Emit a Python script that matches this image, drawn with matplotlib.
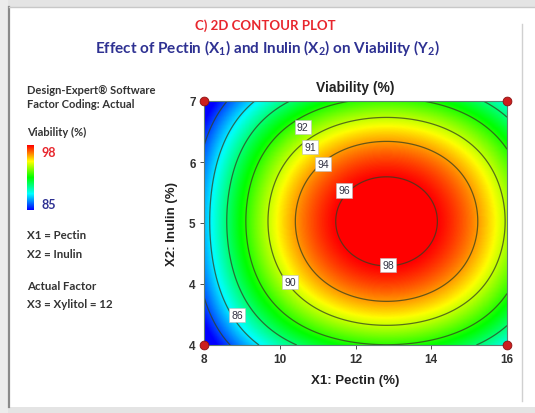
import numpy as np
import matplotlib
matplotlib.use("Agg")
import matplotlib.pyplot as plt
from matplotlib.colors import LinearSegmentedColormap, Normalize
from matplotlib.cm import ScalarMappable
from matplotlib.lines import Line2D
from matplotlib.patches import Rectangle

# ---------------- data ----------------
pectin_range = [8, 16]          # X1 (%)
inulin_range = [4, 7]           # X2 (%)
# response-surface model for Viability (%)
peak_value = 98.9
pectin_opt = 12.82
inulin_opt = 5.52
coef_x2 = 0.50      # curvature along pectin
coef_y2 = 3.0       # curvature along inulin
coef_x2y2 = 0.065   # interaction of squared terms
contour_levels = [86, 88, 90, 92, 94, 96, 98]
label_texts = ["92", "91", "94", "96", "98", "90", "86"]
label_pos = [(10.61, 6.68), (10.80, 6.43), (11.14, 6.23), (11.70, 5.90),
             (12.86, 4.98), (10.27, 4.77), (8.87, 4.37)]
design_x = [8, 8, 16, 16]
design_y = [4, 7, 4, 7]
xticks = [8, 10, 12, 14, 16]
yticks = [4, 4.75, 5.5, 6.25, 7]
ytick_labels = ["4", "4", "5", "6", "7"]
cbar_min, cbar_max = 85, 98

# ---------------- figure ----------------
W, H = 535, 414
fig = plt.figure(figsize=(W / 100, H / 100), dpi=100)
fig.patch.set_facecolor("white")

def fx(px):
    return px / W

def fy(py):
    return 1 - py / H

# slide frame decorations
fig.add_artist(Rectangle((0, fy(8)), 1, 8 / H, transform=fig.transFigure,
                         facecolor="#e4e4e4", edgecolor="none"))
fig.add_artist(Rectangle((0, 0), 1, 6 / H, transform=fig.transFigure,
                         facecolor="#e4e4e4", edgecolor="none"))
fig.add_artist(Rectangle((0, 0), fx(8), 1, transform=fig.transFigure,
                         facecolor="#ececec", edgecolor="none"))
fig.add_artist(Line2D([fx(8.5), fx(8.5)], [fy(8), fy(408)], transform=fig.transFigure,
                      color="#8a8a8a", lw=1.6))
fig.add_artist(Line2D([fx(8.5), 1], [fy(8), fy(8)], transform=fig.transFigure,
                      color="#c8c8c8", lw=1.0))
fig.add_artist(Line2D([fx(522), fx(522)], [fy(25), fy(402)], transform=fig.transFigure,
                      color="#d0d0d0", lw=1.0))

title_font = ["Lato", "DejaVu Sans"]
plt.rcParams["mathtext.default"] = "regular"

fig.text(fx(265), fy(26), "C) 2D CONTOUR PLOT", color="#e8262d", fontsize=9.5,
         fontweight="bold", family=title_font, ha="center", va="center")
fig.text(fx(268), fy(48), "Effect of Pectin (X$_1$) and Inulin (X$_2$) on Viability (Y$_2$)",
         color="#2e3192", fontsize=11, fontweight="bold", family=title_font,
         ha="center", va="center")

# left panel text
lc = "#333333"
lfs = 8.0
fig.text(fx(27), fy(91), "Design-Expert\u00ae Software", color=lc, fontsize=lfs,
         fontweight="bold", family=title_font, va="center")
fig.text(fx(27), fy(105), "Factor Coding: Actual", color=lc, fontsize=lfs,
         fontweight="bold", family=title_font, va="center")
fig.text(fx(27), fy(132), "Viability (%)", color=lc, fontsize=lfs,
         fontweight="bold", family=title_font, va="center")
fig.text(fx(41), fy(153), "98", color="#e8262d", fontsize=lfs + 1,
         fontweight="bold", family=title_font, va="center")
fig.text(fx(41), fy(205), "85", color="#2e3192", fontsize=lfs + 1,
         fontweight="bold", family=title_font, va="center")
fig.text(fx(27), fy(236), "X1 = Pectin", color=lc, fontsize=lfs + 0.3,
         fontweight="bold", family=title_font, va="center")
fig.text(fx(27), fy(255), "X2 = Inulin", color=lc, fontsize=lfs + 0.3,
         fontweight="bold", family=title_font, va="center")
fig.text(fx(27), fy(287), "Actual Factor", color=lc, fontsize=lfs + 0.3,
         fontweight="bold", family=title_font, va="center")
fig.text(fx(27), fy(305), "X3 = Xylitol = 12", color=lc, fontsize=lfs + 0.3,
         fontweight="bold", family=title_font, va="center")

# colormap
cmap = LinearSegmentedColormap.from_list(
    "de", ["#0000ff", "#00ffff", "#00ff00", "#ffff00", "#ff0000"])
norm = Normalize(vmin=cbar_min, vmax=cbar_max)

cax = fig.add_axes([fx(27), fy(211), fx(7), (211 - 146) / H])
cb = fig.colorbar(ScalarMappable(norm=norm, cmap=cmap), cax=cax)
cb.set_ticks([])
cb.outline.set_visible(False)

# main axes
ax = fig.add_axes([fx(204), fy(346), fx(507 - 204), (346 - 102) / H])
xs = np.linspace(pectin_range[0], pectin_range[1], 400)
ys = np.linspace(inulin_range[0], inulin_range[1], 300)
X, Y = np.meshgrid(xs, ys)
dx2 = (X - pectin_opt) ** 2
dy2 = (Y - inulin_opt) ** 2
Z = peak_value - coef_x2 * dx2 - coef_y2 * dy2 + coef_x2y2 * dx2 * dy2

ax.pcolormesh(X, Y, Z, cmap=cmap, norm=norm, shading="gouraud", rasterized=True)
ax.contour(X, Y, Z, levels=contour_levels, colors="#334020", linewidths=0.9, alpha=0.75)

for t, (px, py) in zip(label_texts, label_pos):
    ax.text(px, py, t, fontsize=7.5, color="#333344", ha="center", va="center",
            family=["Liberation Sans"],
            bbox=dict(boxstyle="square,pad=0.2", facecolor="white", edgecolor="#bbbbbb", lw=0.4))

ax.scatter(design_x, design_y, s=40, color="#cc1f1f", edgecolor="#8a1010",
           linewidth=0.6, zorder=5, clip_on=False)

ax.set_xlim(pectin_range)
ax.set_ylim(inulin_range)
ax.set_xticks(xticks)
ax.set_xticklabels([str(v) for v in xticks])
ax.set_yticks(yticks)
ax.set_yticklabels(ytick_labels)
ax.tick_params(labelsize=8.5, colors="#333333", length=3, width=0.6, pad=3)
for lab in ax.get_xticklabels() + ax.get_yticklabels():
    lab.set_family("Liberation Sans")
    lab.set_fontweight("bold")
for s in ax.spines.values():
    s.set_color("#5f7f74")
    s.set_linewidth(0.8)

ax.set_title("Viability (%)", fontsize=10, fontweight="bold", color="#222222",
             family="Liberation Sans", pad=7)
ax.set_xlabel("X1: Pectin (%)", fontsize=9.5, fontweight="bold", color="#222222",
              family="Liberation Sans", labelpad=6)
ax.set_ylabel("X2: Inulin (%)", fontsize=9.5, fontweight="bold", color="#222222",
              family="Liberation Sans", labelpad=8)

fig.savefig("out.png", dpi=100)
